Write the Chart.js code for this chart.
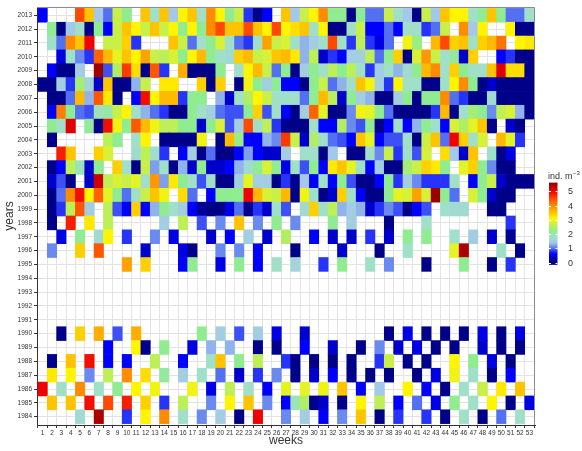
<!DOCTYPE html>
<html>
<head>
<meta charset="utf-8">
<title>Weekly abundance</title>
<script src="https://cdn.jsdelivr.net/npm/chart.js@4.4.1/dist/chart.umd.min.js"></script>
<style>
  html, body { margin: 0; padding: 0; background: #fff; }
</style>
</head>
<body>
<canvas id="heat" width="582" height="451"></canvas>
<script>
var _ = null;

var weeks = [1, 2, 3, 4, 5, 6, 7, 8, 9, 10, 11, 12, 13, 14, 15, 16, 17, 18, 19, 20,
  21, 22, 23, 24, 25, 26, 27, 28, 29, 30, 31, 32, 33, 34, 35, 36, 37, 38, 39, 40,
  41, 42, 43, 44, 45, 46, 47, 48, 49, 50, 51, 52, 53];
var years = [1984, 1985, 1986, 1987, 1988, 1989, 1990, 1991, 1992, 1993, 1994, 1995,
  1996, 1997, 1998, 1999, 2000, 2001, 2002, 2003, 2004, 2005, 2006, 2007, 2008,
  2009, 2010, 2011, 2012, 2013];
var keyTicks = [0, 1, 2, 3, 4, 5];

// ind. m-3 per week (1-13 / 14-26 / 27-39 / 40-53), null = no sample
var y2013 = [0.6,_,_,_,4.5,3.5,1.4,1.0,2.7,2.2,_,3.5,1.8,
  3.5,1.4,3.1,3.5,1.8,4.0,3.1,2.2,2.7,0.8,0.1,0.6,_,
  3.5,1.4,2.7,3.1,4.0,2.2,2.2,0.1,2.2,1.0,1.0,2.7,1.8,
  1.4,0.1,2.7,1.4,3.5,3.1,3.1,1.8,2.2,3.5,2.2,1.0,1.0,1.8];
var y2012 = [_,2.2,0.1,1.4,1.8,0.1,2.2,0.6,2.7,3.5,3.1,2.7,3.5,
  2.7,3.1,2.2,3.1,2.2,4.0,4.5,3.5,3.5,4.5,3.5,3.1,4.5,
  3.1,3.3,3.5,1.8,3.1,0.1,0.1,1.8,2.7,0.6,0.6,1.0,0.6,
  1.8,1.8,0.8,1.0,2.7,_,4.0,1.4,3.1,_,_,3.1,0.1,0.1];
var y2011 = [_,1.8,1.0,4.0,3.5,5.0,_,2.7,2.7,3.4,0.8,_,_,
  _,3.5,2.7,1.0,1.8,2.2,2.8,1.8,1.0,0.8,1.8,3.8,2.7,
  2.8,1.8,1.3,1.5,1.8,4.5,1.8,0.8,2.6,0.8,0.5,1.0,_,
  3.0,2.3,_,3.6,4.5,3.4,3.5,1.8,3.4,3.6,4.2,_,3.1,3.2];
var y2010 = [_,_,0.5,1.8,1.1,0.8,4.3,3.6,2.9,3.5,3.1,3.8,2.7,
  2.6,2.8,2.2,3.1,3.6,2.2,1.8,1.7,3.4,3.6,2.7,2.8,3.5,
  3.6,3.2,1.3,2.6,0.4,0.8,0.6,1.5,1.5,2.6,1.0,2.2,3.4,
  0.1,2.8,3.9,2.7,1.8,2.1,0.4,3.4,_,_,0.6,0.8,0.1,0.1];
var y2009 = [_,0.6,0.1,0.1,1.5,_,5.5,0.9,2.5,4.6,3.3,0.1,4.4,
  0.8,_,3.7,0.1,0.1,0.1,2.2,_,1.8,3.1,3.6,2.7,1.0,
  2.2,0.1,1.5,2.2,1.8,2.6,2.2,2.6,1.8,0.8,1.5,1.8,1.3,
  1.7,2.2,3.6,4.0,1.8,3.4,2.2,1.8,1.8,3.5,5.1,3.3,3.3,0.1];
var y2008 = [0.1,0.1,1.5,0.8,2.4,1.6,0.4,3.5,0.1,0.1,1.3,2.7,_,
  3.2,3.2,_,_,3.4,0.1,3.4,_,0.1,3.0,2.2,1.5,2.2,
  0.6,0.6,0.1,2.2,2.7,1.0,1.3,1.8,3.5,3.0,1.5,0.8,3.1,
  1.8,1.8,0.1,0.1,1.8,3.1,4.0,2.2,0.1,0.4,0.1,0.1,0.1,0.1];
var y2007 = [_,0.1,0.1,1.0,3.6,1.3,4.4,3.2,0.1,_,0.6,4.9,3.1,
  3.6,3.6,0.8,2.2,2.2,_,1.3,0.4,1.8,2.5,3.1,2.7,1.8,
  1.8,1.8,1.0,2.2,3.6,2.6,0.4,2.2,1.5,1.3,0.1,0.1,1.5,
  2.2,0.1,2.2,2.2,4.0,1.0,0.8,0.1,0.1,1.7,0.1,0.1,0.1,0.1];
var y2006 = [_,0.6,4.1,2.2,1.0,0.9,1.9,2.0,2.7,3.1,1.8,1.3,1.0,
  0.8,0.1,0.1,2.2,1.8,1.5,1.0,0.9,0.9,2.2,3.4,0.9,1.8,
  0.6,0.1,1.5,4.3,2.9,0.1,0.1,1.1,3.0,2.9,2.2,1.0,0.1,
  0.1,0.1,0.1,0.8,3.6,0.1,1.8,2.4,2.2,1.1,2.6,2.8,1.3,0.1];
var y2005 = [_,2.2,1.8,5.1,_,2.1,0.1,4.9,3.0,2.2,4.4,3.6,3.0,
  2.6,2.6,2.2,2.2,0.4,2.2,2.8,0.9,1.5,4.5,1.8,2.6,0.8,
  0.1,0.1,0.1,1.8,0.6,0.6,2.5,1.1,0.9,2.2,0.1,0.6,1.8,
  0.6,1.3,2.2,1.8,0.6,2.8,2.5,2.9,3.5,0.15,_,0.4,0.1,_];
var y2004 = [_,0.1,_,_,_,_,_,2.6,2.2,_,1.8,3.1,_,
  0.1,0.1,0.1,0.1,3.0,_,0.1,3.6,2.3,0.6,0.6,1.3,1.1,
  4.6,2.7,0.4,2.5,1.8,1.0,0.9,0.6,3.5,2.9,0.6,0.9,0.9,
  1.8,0.1,2.7,3.5,1.0,5.0,3.4,1.8,2.8,_,3.6,2.9,0.8,_];
var y2003 = [_,_,4.8,3.5,_,_,3.4,2.8,_,_,1.7,2.6,1.8,
  0.8,_,0.6,1.5,0.1,1.0,0.1,0.1,0.6,1.2,0.6,0.4,0.4,
  1.5,_,1.8,1.8,0.1,1.4,_,0.1,0.1,1.8,1.1,2.7,0.8,
  1.8,0.9,2.8,_,3.3,1.4,0.4,3.5,_,1.8,0.1,0.5,_,_];
var y2002 = [_,0.1,0.6,2.6,1.9,0.4,2.2,_,3.4,1.8,0.1,2.7,1.2,
  1.8,0.1,1.3,0.4,2.2,0.4,0.4,0.6,1.3,1.7,2.2,2.8,2.2,
  0.5,1.8,0.9,2.2,0.6,3.2,3.5,2.9,1.8,0.6,1.5,0.1,0.1,
  2.4,2.7,3.4,3.2,2.2,_,2.9,3.4,2.2,1.1,0.1,0.1,_,_];
var y2001 = [_,0.4,0.9,0.1,_,0.4,5.2,2.6,2.8,2.7,2.9,1.8,3.9,
  1.2,3.2,2.2,1.8,0.9,1.8,0.1,0.1,1.5,2.9,1.5,1.5,0.1,
  0.8,0.1,1.4,0.6,1.8,0.6,2.2,0.9,0.1,0.1,0.6,2.2,0.8,
  1.5,1.1,0.8,0.8,0.8,1.8,_,0.6,2.2,2.7,0.4,0.15,0.1,0.1];
var y2000 = [_,0.1,1.0,4.0,4.9,3.1,4.3,2.9,2.2,1.0,1.8,2.7,3.5,
  3.0,_,3.3,1.0,_,0.6,2.2,2.2,2.2,5.0,3.6,2.8,2.7,
  3.6,0.1,3.0,1.8,0.1,0.4,3.4,1.8,0.6,0.1,0.1,2.2,2.9,
  2.8,3.8,2.8,5.5,2.2,1.0,_,2.8,2.2,0.4,0.1,0.1,_,_];
var y1999 = [_,0.1,0.8,2.6,4.4,1.5,_,2.6,0.9,0.6,3.4,0.6,1.3,
  2.2,1.8,1.5,0.6,0.2,0.1,0.1,0.5,1.0,0.1,0.8,0.4,1.8,
  0.9,_,1.7,3.4,1.8,2.6,1.3,1.5,1.3,0.4,0.8,1.1,0.9,
  0.1,0.6,0.9,_,1.8,1.7,1.7,_,_,0.1,0.1,_,_,_];
var y1998 = [_,0.1,_,4.8,_,3.2,_,2.6,_,_,_,_,_,
  1.5,_,2.6,_,0.9,_,1.1,_,3.5,_,1.1,_,2.2,
  _,1.1,_,_,_,2.2,_,1.5,_,_,_,0.1,_,
  _,_,1.8,_,_,_,_,_,_,_,_,0.8,_,_];
var y1997 = [_,_,0.5,_,2.2,_,1.7,3.1,_,0.8,_,_,1.1,
  _,0.5,_,_,_,0.4,_,0.6,_,1.5,_,0.4,_,
  2.5,_,_,0.6,_,0.4,_,0.4,_,0.8,_,0.4,_,
  2.2,_,2.2,_,_,1.8,_,1.5,_,0.4,_,0.2,_,_];
var y1996 = [_,1.1,_,_,3.4,_,4.4,_,_,_,_,0.4,_,
  _,_,0.5,0.1,_,_,1.1,_,1.1,_,0.6,_,_,
  _,0.1,_,_,_,_,0.4,_,_,_,0.1,_,_,
  1.8,_,_,_,_,2.9,5.4,_,_,_,1.8,_,0.1,_];
var y1995 = [_,_,_,_,_,_,_,_,_,3.8,_,3.4,_,
  _,_,0.6,2.2,_,_,0.5,_,2.2,_,0.6,_,1.8,
  _,1.6,_,_,0.8,_,2.2,_,_,1.8,_,1.1,_,
  _,_,0.1,_,_,_,2.2,_,_,0.1,_,0.8,_,_];
var y1994 = [];
var y1993 = [];
var y1992 = [];
var y1991 = [];
var y1990 = [_,_,0.1,_,3.4,_,3.7,_,0.9,_,3.7,_,_,
  _,_,_,_,2.2,_,1.5,_,0.9,_,1.5,_,0.5,
  _,_,0.4,_,_,_,_,_,_,_,_,0.1,_,
  0.5,_,0.1,_,0.1,_,0.1,_,0.5,_,0.1,_,0.5,_];
var y1989 = [_,_,_,_,_,_,_,0.6,_,_,3.1,0.1,_,
  2.2,_,_,0.5,_,1.3,_,1.3,_,_,0.15,_,0.15,
  _,_,0.6,_,_,0.4,_,_,0.1,_,1.1,_,0.4,
  _,0.5,_,0.1,_,0.1,_,_,0.4,_,0.1,_,0.1,_];
var y1988 = [_,0.15,_,3.5,_,4.9,_,0.6,_,0.6,_,_,2.6,
  _,_,0.6,_,_,1.8,3.5,_,2.2,_,2.6,_,_,
  0.8,0.1,_,0.1,_,0.1,_,0.1,_,_,0.8,2.7,_,
  0.1,_,0.1,_,_,3.1,_,2.2,_,0.5,_,0.1,_,_];
var y1987 = [_,3.2,_,3.1,_,1.1,_,2.6,_,4.0,_,3.3,_,
  2.1,_,1.5,_,1.8,_,1.0,_,0.4,_,0.8,_,1.1,
  _,0.1,_,0.4,_,0.6,_,0.15,_,0.1,_,0.1,_,
  _,0.1,_,0.5,_,3.0,_,1.8,_,0.1,_,0.6,_,_];
var y1986 = [5.0,_,1.8,_,4.0,_,1.8,_,2.2,_,3.1,_,3.0,
  _,_,_,3.0,_,0.5,_,2.6,_,1.8,_,0.6,_,
  2.9,_,2.9,_,3.0,_,3.5,_,0.6,_,1.4,_,_,
  3.1,_,0.6,_,0.1,_,1.8,_,2.7,_,3.2,_,3.5,_];
var y1985 = [_,3.5,_,3.5,_,4.9,_,4.5,_,4.8,_,3.4,_,
  0.8,_,2.6,_,_,1.1,_,3.1,_,3.5,_,1.1,_,
  0.6,1.9,2.5,0.15,0.4,_,0.1,_,3.1,_,2.6,_,0.6,
  _,1.0,_,0.5,_,2.2,_,1.8,_,3.1,_,0.1,_,0.5];
var y1984 = [_,_,_,_,1.7,_,5.4,_,_,0.8,_,3.1,_,
  4.0,_,1.8,_,1.1,_,1.5,_,0.1,_,5.0,_,_,
  1.1,_,1.5,_,0.6,_,1.1,_,3.5,_,0.1,_,0.8,
  _,_,0.8,_,0.1,_,1.8,_,0.1,_,1.0,_,1.8,_];

var rows = [y1984, y1985, y1986, y1987, y1988, y1989, y1990, y1991, y1992, y1993,
  y1994, y1995, y1996, y1997, y1998, y1999, y2000, y2001, y2002, y2003, y2004,
  y2005, y2006, y2007, y2008, y2009, y2010, y2011, y2012, y2013];

// colour ramp: navy -> blue -> light blue -> green -> yellow -> orange -> red
var rampStops = [
  [0.0, [0, 0, 128]],
  [0.15, [0, 0, 140]],
  [0.6, [0, 0, 255]],
  [0.85, [48, 64, 248]],
  [1.05, [96, 128, 240]],
  [1.4, [164, 200, 234]],
  [1.8, [160, 224, 200]],
  [2.2, [144, 236, 144]],
  [2.7, [200, 240, 72]],
  [3.1, [255, 245, 0]],
  [3.5, [255, 196, 0]],
  [4.0, [255, 140, 0]],
  [4.5, [255, 72, 0]],
  [5.0, [240, 0, 0]],
  [5.6, [140, 0, 0]]
];

function rampColour(v) {
  if (v <= rampStops[0][0]) v = rampStops[0][0];
  for (var i = 1; i < rampStops.length; i++) {
    var a = rampStops[i - 1], b = rampStops[i];
    if (v <= b[0] || i === rampStops.length - 1) {
      var t = Math.min(1, Math.max(0, (v - a[0]) / (b[0] - a[0])));
      var c = a[1].map(function (x, k) { return Math.round(x + (b[1][k] - x) * t); });
      return 'rgb(' + c.join(',') + ')';
    }
  }
}

var datasets = years.map(function (yr, r) {
  var cells = [], colours = [];
  weeks.forEach(function (wk, w) {
    var v = rows[r][w];
    if (v === null || v === undefined) return;
    cells.push({ x: wk, y: [yr - 0.5, yr + 0.5], v: v });
    colours.push(rampColour(v));
  });
  return {
    label: String(yr),
    data: cells,
    backgroundColor: colours,
    borderWidth: 0,
    grouped: false,
    barPercentage: 1,
    categoryPercentage: 1
  };
});

var FONT = 'Liberation Sans, Arial, sans-serif';

// grey panel edge on top/right plus the colour key
var panelAndKey = {
  id: 'panelAndKey',
  afterDraw: function (chart) {
    var ctx = chart.ctx, a = chart.chartArea;
    ctx.save();
    ctx.strokeStyle = '#8c8c8c';
    ctx.lineWidth = 1;
    ctx.beginPath();
    ctx.moveTo(a.left, a.top + 0.5);
    ctx.lineTo(a.right - 0.5, a.top + 0.5);
    ctx.lineTo(a.right - 0.5, a.bottom);
    ctx.stroke();

    var keyX = 549, keyW = 8.5, zeroY = 262.7, unit = 14.3;
    var lo = -0.15, hi = 5.6;
    var yTop = zeroY - hi * unit, yBot = zeroY - lo * unit;
    var grad = ctx.createLinearGradient(0, yBot, 0, yTop);
    for (var s = 0; s <= 60; s++) {
      var v = lo + (hi - lo) * s / 60;
      grad.addColorStop(s / 60, rampColour(v));
    }
    ctx.fillStyle = grad;
    ctx.fillRect(keyX, yTop, keyW, yBot - yTop);

    ctx.strokeStyle = '#ffffff';
    ctx.fillStyle = '#333';
    ctx.font = '9px ' + FONT;
    ctx.textBaseline = 'middle';
    ctx.textAlign = 'left';
    keyTicks.forEach(function (t) {
      var y = Math.round(zeroY - t * unit) + 0.5;
      ctx.beginPath();
      ctx.moveTo(keyX, y); ctx.lineTo(keyX + 2, y);
      ctx.moveTo(keyX + keyW - 2, y); ctx.lineTo(keyX + keyW, y);
      ctx.stroke();
      ctx.fillText(String(t), 568, y);
    });

    ctx.textBaseline = 'alphabetic';
    ctx.font = '9px ' + FONT;
    ctx.fillText('ind. m', 548, 179);
    var w = ctx.measureText('ind. m').width;
    ctx.font = '6px ' + FONT;
    ctx.fillText('\u22123', 548 + w + 0.5, 175);
    ctx.restore();
  }
};

new Chart(document.getElementById('heat'), {
  type: 'bar',
  data: { datasets: datasets },
  plugins: [panelAndKey],
  options: {
    responsive: false,
    animation: false,
    devicePixelRatio: 1,
    layout: { padding: { top: 7, right: 47, bottom: 0, left: 0 } },
    plugins: { legend: { display: false }, tooltip: { enabled: false } },
    scales: {
      x: {
        type: 'linear',
        min: 0.4,
        max: 53.6,
        bounds: 'data',
        offset: false,
        afterBuildTicks: function (scale) {
          scale.ticks = weeks.map(function (w) { return { value: w }; });
        },
        grid: { color: '#e3e3e3', lineWidth: 1, tickColor: '#333', tickLength: 3 },
        border: { display: true, color: '#333', width: 1 },
        ticks: {
          autoSkip: false,
          maxRotation: 0,
          padding: 1,
          color: '#333',
          font: { size: 6.5, family: FONT },
          callback: function (v) { return String(v); }
        },
        title: {
          display: true,
          text: 'weeks',
          color: '#333',
          font: { size: 12, family: FONT },
          padding: { top: 0, bottom: 3 }
        },
        afterFit: function (scale) { scale.height = 26; }
      },
      y: {
        type: 'linear',
        min: 1983.4,
        max: 2013.6,
        bounds: 'data',
        afterBuildTicks: function (scale) {
          scale.ticks = years.map(function (y) { return { value: y }; });
        },
        grid: { color: '#e3e3e3', lineWidth: 1, tickColor: '#333', tickLength: 3 },
        border: { display: true, color: '#333', width: 1 },
        ticks: {
          autoSkip: false,
          padding: 2,
          color: '#333',
          font: { size: 6.5, family: FONT },
          callback: function (v) { return String(v); }
        },
        title: {
          display: true,
          text: 'years',
          color: '#333',
          font: { size: 12, family: FONT },
          padding: { top: 2, bottom: 0 }
        },
        afterFit: function (scale) { scale.width = 37; }
      }
    }
  }
});
</script>
</body>
</html>
